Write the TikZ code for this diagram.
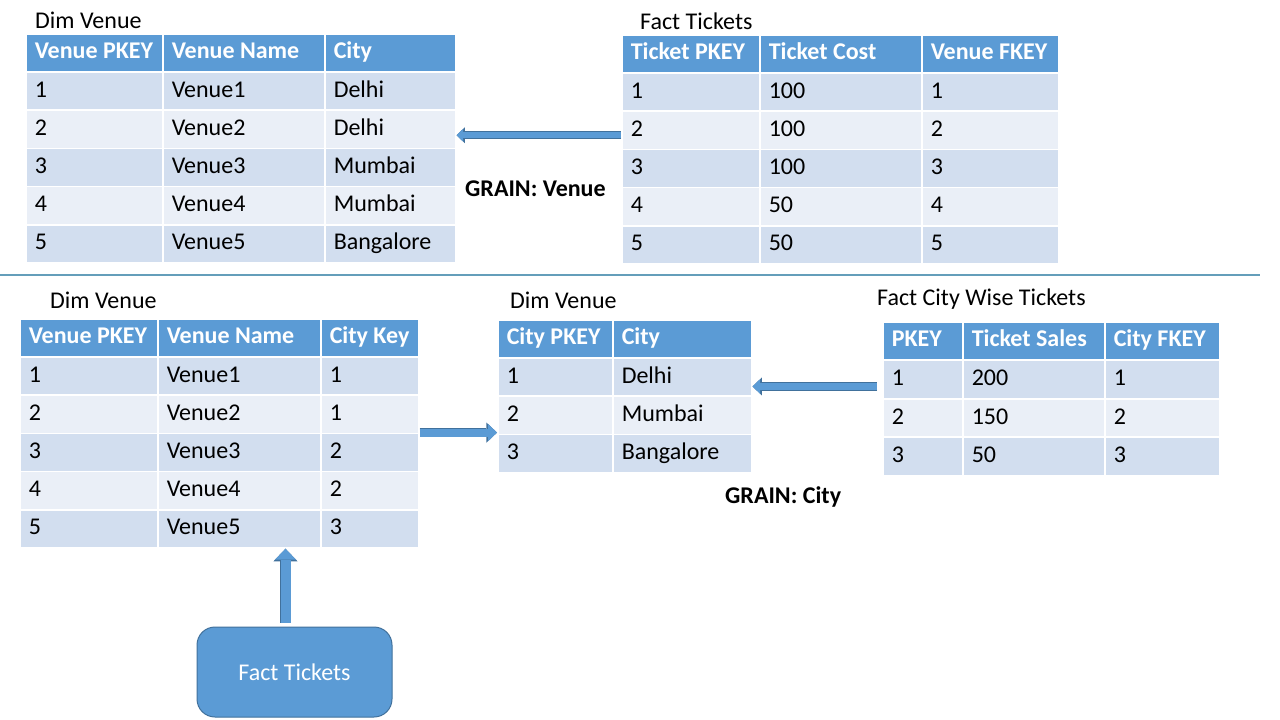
\documentclass[tikz,border=0pt]{standalone}
\usepackage{fontspec}
\setmainfont{Carlito}
\usetikzlibrary{positioning,calc,arrows.meta}
\definecolor{hdrblue}{RGB}{91,155,213}
\definecolor{rowdark}{RGB}{210,222,239}
\definecolor{rowlight}{RGB}{234,239,247}
\definecolor{edgeblue}{RGB}{65,113,156}
\definecolor{rulecol}{RGB}{100,158,186}
\tikzset{
  cell/.style={anchor=north west,draw=white,line width=1.5pt,
    minimum height=38.2pt,inner xsep=9pt,inner ysep=0pt,
    text height=17pt,text depth=5pt,
    execute at begin node={\hbox to #1\bgroup},
    execute at end node={\hfil\egroup}},
  hcell/.style={cell=#1,fill=hdrblue,text=white,font=\bfseries},
  title/.style={anchor=west,inner sep=0pt},
  blockarrow/.style={line width=#1,draw=hdrblue,
    -{Triangle[length=0pt 1.1,width=0pt 2.1,line width=0pt 0 0]},
    preaction={draw=edgeblue,line width=#1+1.6pt}},
  factbox/.style={rounded corners=18pt,fill=hdrblue,draw=edgeblue,
    line width=1pt,minimum width=195pt,minimum height=90pt,text=white},
  sepline/.style={draw=rulecol,line width=1.2pt}
}
\begin{document}
\fontsize{24pt}{29pt}\selectfont
\begin{tikzpicture}[x=1pt,y=-1pt]
  \useasboundingbox[fill=white] (0,0) rectangle (1280,720);
  % upper part: grain venue
  \node (dv-title) [title] at (35,20) {Dim Venue};
  \node (dv-0-a) [hcell=119pt] at (25,33) {Venue PKEY};
  \node (dv-0-b) [hcell=144pt] at (162,33) {Venue Name};
  \node (dv-0-c) [hcell=113pt] at (324,33) {City};
  \foreach \k/\n/\c/\rc [count=\i] in {1/Venue1/Delhi/rowdark,
      2/Venue2/Delhi/rowlight,3/Venue3/Mumbai/rowdark,
      4/Venue4/Mumbai/rowlight,5/Venue5/Bangalore/rowdark}{
    \node (dv-\i-a) [cell=119pt,fill=\rc] at (25,{33+38.2*\i}) {\k};
    \node (dv-\i-b) [cell=144pt,fill=\rc] at (162,{33+38.2*\i}) {\n};
    \node (dv-\i-c) [cell=113pt,fill=\rc] at (324,{33+38.2*\i}) {\c};
  }
  \node (ft-title) [title] at (640,21) {Fact Tickets};
  \node (ft-0-a) [hcell=120pt] at (621,34) {Ticket PKEY};
  \node (ft-0-b) [hcell=144pt] at (759,34) {Ticket Cost};
  \node (ft-0-c) [hcell=119pt] at (921,34) {Venue FKEY};
  \foreach \k/\n/\c/\rc [count=\i] in {1/100/1/rowdark,2/100/2/rowlight,
      3/100/3/rowdark,4/50/4/rowlight,5/50/5/rowdark}{
    \node (ft-\i-a) [cell=120pt,fill=\rc] at (621,{34+38.2*\i}) {\k};
    \node (ft-\i-b) [cell=144pt,fill=\rc] at (759,{34+38.2*\i}) {\n};
    \node (ft-\i-c) [cell=119pt,fill=\rc] at (921,{34+38.2*\i}) {\c};
  }
  \draw[blockarrow=6pt] ([yshift=-5pt]ft-2-a.west)
    -- ([yshift=-5pt]ft-2-a.west -| dv-2-c.east);
  \node (grain-venue) [title,font=\bfseries] at (465,189) {GRAIN: Venue};
  \draw[sepline] (0,275) -- (1260,275);
  % lower part: grain city
  \node (dvk-title) [title] at (50,300) {Dim Venue};
  \node (dvk-0-a) [hcell=120pt] at (19,318) {Venue PKEY};
  \node (dvk-0-b) [hcell=145pt] at (157,318) {Venue Name};
  \node (dvk-0-c) [hcell=80pt] at (320,318) {City Key};
  \foreach \k/\n/\c/\rc [count=\i] in {1/Venue1/1/rowdark,
      2/Venue2/1/rowlight,3/Venue3/2/rowdark,
      4/Venue4/2/rowlight,5/Venue5/3/rowdark}{
    \node (dvk-\i-a) [cell=120pt,fill=\rc] at (19,{318+38.2*\i}) {\k};
    \node (dvk-\i-b) [cell=145pt,fill=\rc] at (157,{318+38.2*\i}) {\n};
    \node (dvk-\i-c) [cell=80pt,fill=\rc] at (320,{318+38.2*\i}) {\c};
  }
  \node (dc-title) [title] at (510,300) {Dim Venue};
  \node (dc-0-a) [hcell=97pt] at (497,319) {City PKEY};
  \node (dc-0-b) [hcell=121pt] at (612,319) {City};
  \foreach \k/\c/\rc [count=\i] in {1/Delhi/rowdark,2/Mumbai/rowlight,
      3/Bangalore/rowdark}{
    \node (dc-\i-a) [cell=97pt,fill=\rc] at (497,{319+38.2*\i}) {\k};
    \node (dc-\i-b) [cell=121pt,fill=\rc] at (612,{319+38.2*\i}) {\c};
  }
  \node (fc-title) [title] at (877,299) {Fact City Wise Tickets};
  \node (fc-0-a) [hcell=62pt] at (882,321) {PKEY};
  \node (fc-0-b) [hcell=124pt] at (962,321) {Ticket Sales};
  \node (fc-0-c) [hcell=97pt] at (1104,321) {City FKEY};
  \foreach \k/\n/\c/\rc [count=\i] in {1/200/1/rowdark,2/150/2/rowlight,
      3/50/3/rowdark}{
    \node (fc-\i-a) [cell=62pt,fill=\rc] at (882,{321+38.6*\i}) {\k};
    \node (fc-\i-b) [cell=124pt,fill=\rc] at (962,{321+38.6*\i}) {\n};
    \node (fc-\i-c) [cell=97pt,fill=\rc] at (1104,{321+38.6*\i}) {\c};
  }
  \node (grain-city) [title,font=\bfseries] at (725,497) {GRAIN: City};
  \node (ftbox) [factbox] at (294.5,672) {Fact Tickets};
  \draw[blockarrow=8pt] (dvk-3-c.north east) -- (dvk-3-c.north east -| dc-3-a.west);
  \draw[blockarrow=7pt,shorten <=5pt] ([yshift=-7pt]fc-1-a.west)
    -- ([yshift=-7pt]fc-1-a.west -| dc-1-b.east);
  \draw[blockarrow=10pt] ([xshift=-9pt,yshift=4pt]ftbox.north)
    -- ([xshift=-9pt]ftbox.north |- dvk-5-b.south);
\end{tikzpicture}
\end{document}
